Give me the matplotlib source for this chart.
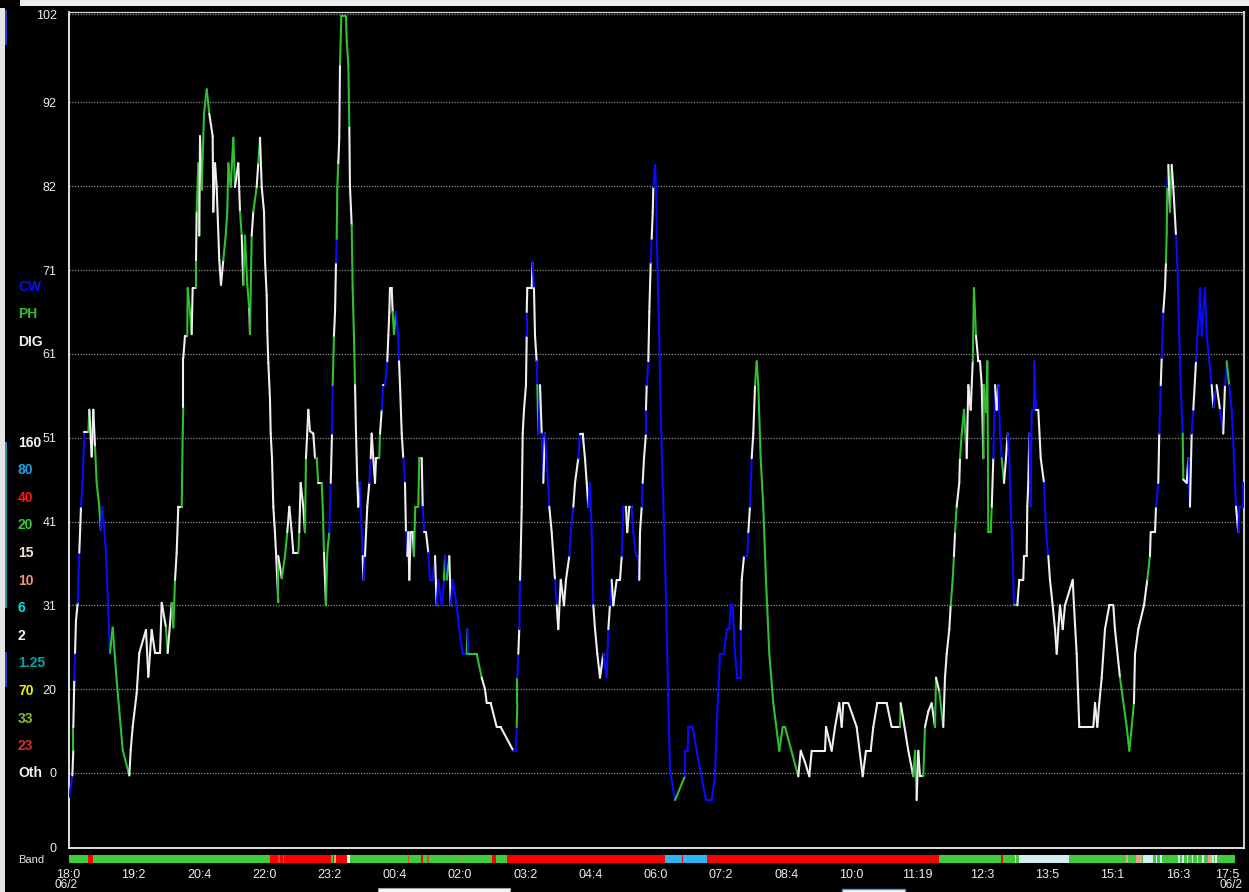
import matplotlib
matplotlib.use("Agg")
import matplotlib.pyplot as plt
import matplotlib.transforms as mtransforms
from matplotlib.collections import LineCollection
from matplotlib.patches import Rectangle

plt.rcParams['font.family'] = ['Liberation Sans', 'DejaVu Sans']

# ---------------- data ----------------
# minutes after 18:00 (06/2)
times = [
    1.0, 4.7, 5.9, 5.9, 7.1, 8.0, 9.2, 11.3, 13.2, 15.3,
    17.4, 19.4, 24.3, 25.5, 28.4, 30.4, 32.5, 34.5, 37.7, 39.4,
    41.4, 43.9, 45.9, 48.8, 50.8, 54.1, 59.0, 66.4, 74.5, 76.2,
    78.6, 83.5, 86.7, 94.9, 97.8, 101.9, 106.0, 112.1, 114.2, 119.4,
    121.5, 126.4, 128.4, 130.5, 132.5, 134.5, 138.7, 139.9, 140.6, 140.6,
    142.7, 145.5, 146.0, 148.8, 150.9, 152.1, 156.2, 156.2, 157.0, 159.0,
    160.2, 161.1, 163.2, 166.0, 169.3, 172.5, 176.6, 177.4, 179.5, 181.5,
    184.7, 186.8, 189.6, 192.6, 194.5, 195.8, 198.7, 201.9, 204.0, 208.0,
    210.1, 212.2, 214.1, 216.2, 219.0, 221.5, 222.3, 224.4, 226.4, 230.5,
    232.5, 234.6, 236.7, 239.5, 240.7, 242.8, 243.5, 244.8, 246.8, 247.7,
    249.3, 250.9, 252.9, 254.2, 257.0, 257.0, 261.2, 265.2, 268.0, 270.5,
    273.4, 275.4, 281.5, 282.7, 284.4, 287.6, 289.7, 290.9, 293.8, 295.8,
    299.9, 302.0, 304.0, 306.0, 310.2, 311.4, 313.0, 315.4, 317.0, 319.5,
    321.2, 322.8, 323.6, 325.2, 326.5, 327.7, 328.5, 329.3, 330.5, 331.7,
    332.6, 333.4, 334.2, 339.9, 340.8, 342.8, 344.0, 344.8, 346.9, 348.1,
    349.7, 351.0, 352.2, 353.8, 355.0, 357.1, 358.0, 360.4, 361.1, 363.2,
    366.0, 368.5, 370.2, 371.4, 373.4, 375.5, 376.7, 380.7, 381.6, 383.7,
    385.6, 387.7, 390.5, 391.8, 393.0, 393.8, 395.9, 397.1, 398.7, 401.2,
    404.0, 404.9, 406.1, 408.2, 410.1, 412.2, 413.4, 415.0, 416.3, 417.5,
    419.2, 421.6, 423.2, 424.8, 428.5, 429.7, 432.7, 433.9, 435.5, 437.9,
    440.8, 442.8, 446.1, 449.0, 451.0, 453.0, 457.2, 460.0, 461.2, 463.3,
    466.5, 468.2, 470.6, 475.5, 478.7, 482.9, 487.8, 488.5, 489.8, 500.0,
    506.2, 510.2, 512.3, 517.2, 524.5, 529.4, 544.9, 548.2, 549.0, 549.8,
    549.8, 551.0, 552.2, 553.1, 553.9, 555.2, 556.4, 558.0, 560.4, 561.3,
    561.3, 562.0, 567.4, 568.6, 570.2, 571.5, 573.5, 574.3, 575.5, 577.6,
    579.7, 581.6, 583.7, 585.8, 589.0, 591.9, 596.0, 598.1, 600.0, 603.0,
    607.0, 609.4, 613.5, 615.2, 618.4, 620.5, 624.5, 626.6, 629.9, 632.7,
    634.8, 636.8, 638.8, 640.9, 642.9, 645.0, 647.8, 651.1, 655.1, 659.3,
    661.3, 663.3, 665.4, 667.4, 671.5, 675.6, 677.7, 679.6, 682.9, 684.5,
    687.0, 689.9, 691.9, 695.2, 698.0, 699.2, 700.1, 702.2, 703.4, 705.0,
    707.4, 707.4, 708.3, 710.3, 711.5, 713.2, 714.4, 715.7, 716.4, 718.5,
    719.7, 721.3, 723.7, 725.4, 727.9, 730.7, 732.8, 734.8, 736.8, 743.0,
    755.2, 755.2, 758.5, 759.3, 764.6, 771.5, 780.9, 787.9, 791.9, 794.0,
    798.1, 803.0, 806.3, 809.5, 811.2, 813.6, 816.5, 819.3, 823.4, 823.4,
    824.7, 827.5, 831.5, 832.8, 834.8, 836.9, 838.9, 841.0, 843.0, 845.0,
    847.9, 851.1, 854.4, 858.5, 863.4, 870.7, 874.9, 877.7, 894.0, 897.0,
    902.2, 907.5, 910.4, 926.7, 928.0, 934.9, 939.0, 944.2, 947.2, 949.1,
    955.3, 965.5, 972.9, 976.9, 982.7, 985.9, 990.8, 1002.3, 1008.4, 1018.6,
    1019.4, 1028.8, 1034.9, 1037.0, 1039.0, 1041.0, 1043.1, 1047.1, 1049.2, 1053.3,
    1057.4, 1061.5, 1062.7, 1066.7, 1071.6, 1073.7, 1075.8, 1079.0, 1080.7, 1083.1,
    1084.7, 1086.0, 1088.0, 1091.2, 1092.1, 1094.2, 1097.0, 1100.3, 1102.3, 1105.2,
    1107.7, 1109.2, 1111.7, 1114.5, 1116.6, 1118.7, 1120.7, 1121.5, 1124.0, 1125.6,
    1126.8, 1129.7, 1131.0, 1132.9, 1135.0, 1137.0, 1139.0, 1141.1, 1143.2, 1146.0,
    1148.4, 1150.5, 1152.5, 1154.2, 1156.6, 1158.2, 1162.3, 1164.7, 1169.6, 1170.5,
    1173.8, 1174.5, 1175.8, 1177.0, 1178.7, 1179.9, 1182.7, 1183.1, 1185.2, 1188.0,
    1191.0, 1195.0, 1197.5, 1200.3, 1202.3, 1205.6, 1208.5, 1210.6, 1212.5, 1214.6,
    1217.9, 1220.7, 1230.2, 1231.7, 1235.0, 1238.2, 1255.4, 1257.5, 1260.3, 1262.7,
    1265.7, 1269.7, 1275.0, 1279.9, 1281.9, 1288.1, 1296.3, 1299.5, 1302.4, 1305.2,
    1306.5, 1310.5, 1317.5, 1321.5, 1324.8, 1325.7, 1331.0, 1332.2, 1335.0, 1336.2,
    1338.0, 1339.2, 1341.1, 1343.2, 1344.4, 1345.3, 1346.0, 1347.3, 1349.3, 1351.4,
    1353.4, 1356.7, 1358.3, 1360.7, 1362.4, 1364.9, 1365.7, 1369.8, 1371.8, 1373.8,
    1375.9, 1377.9, 1381.2, 1382.8, 1385.2, 1386.1, 1388.2, 1392.2, 1394.3, 1397.5,
    1400.4, 1402.4, 1406.5, 1410.6, 1414.6, 1416.7, 1418.8, 1421.9, 1424.9, 1427.7,
    1430.2, 1433.0, 1434.2, 1438.4, 1438.4,
]

values = [
    7.3, 9.9, 13.0, 15.8, 21.5, 24.8, 28.8, 30.9, 37.0, 42.6,
    45.9, 51.7, 51.7, 54.4, 48.7, 54.4, 49.9, 45.5, 42.6, 39.8,
    42.6, 39.8, 37.0, 29.7, 24.8, 27.9, 21.5, 13.0, 9.9, 13.0,
    15.8, 19.9, 24.8, 27.6, 21.9, 27.6, 24.8, 24.8, 30.9, 27.9,
    24.8, 30.9, 27.9, 33.7, 37.0, 42.6, 42.6, 51.5, 54.7, 60.7,
    63.4, 63.4, 69.2, 66.3, 63.6, 69.2, 69.2, 72.6, 78.5, 84.4,
    75.6, 87.7, 81.2, 90.4, 93.4, 90.4, 87.7, 78.5, 84.4, 81.5,
    72.6, 69.6, 72.6, 75.6, 78.5, 84.4, 81.5, 87.5, 81.5, 84.4,
    78.5, 75.6, 69.6, 75.6, 69.6, 66.7, 63.6, 75.6, 78.5, 81.5,
    84.4, 87.5, 81.5, 78.5, 72.6, 68.3, 64.0, 60.1, 55.7, 51.5,
    48.5, 42.6, 39.5, 37.0, 31.0, 36.6, 33.9, 36.6, 39.5, 42.6,
    39.5, 37.0, 37.0, 39.5, 45.5, 42.6, 39.5, 48.5, 54.4, 51.8,
    51.5, 48.5, 48.5, 45.5, 45.5, 42.6, 37.0, 30.6, 37.0, 39.5,
    45.5, 51.5, 57.4, 63.4, 66.3, 72.3, 75.2, 81.5, 84.4, 87.5,
    96.4, 99.3, 102.3, 102.3, 99.3, 96.4, 88.7, 81.5, 76.9, 69.2,
    63.4, 57.4, 51.5, 45.5, 42.6, 45.5, 42.6, 36.6, 33.7, 36.6,
    42.6, 45.5, 48.5, 51.5, 48.5, 45.5, 48.5, 48.5, 51.5, 54.4,
    57.4, 57.4, 60.3, 63.4, 66.3, 69.2, 69.2, 66.3, 63.6, 66.3,
    63.4, 60.3, 57.4, 51.5, 48.5, 45.5, 39.5, 36.6, 39.5, 33.7,
    39.5, 39.5, 36.6, 42.6, 42.6, 48.5, 48.5, 42.6, 39.5, 39.5,
    37.0, 33.7, 33.7, 36.6, 30.6, 33.7, 30.6, 33.7, 36.6, 33.7,
    36.6, 30.6, 33.7, 30.6, 27.7, 24.7, 24.7, 27.7, 24.7, 24.7,
    21.8, 20.4, 18.7, 18.7, 15.8, 15.8, 12.9, 12.9, 15.8, 18.7,
    21.8, 24.7, 27.7, 33.7, 36.6, 42.6, 51.5, 54.4, 57.4, 63.4,
    66.3, 69.2, 69.2, 72.3, 69.2, 63.4, 60.3, 57.4, 51.5, 57.4,
    51.5, 45.5, 51.5, 48.5, 42.6, 39.5, 33.7, 30.6, 27.7, 33.7,
    30.6, 33.7, 36.6, 39.5, 42.6, 45.5, 48.5, 51.5, 51.5, 48.5,
    45.5, 42.6, 45.5, 39.5, 30.6, 27.7, 24.7, 21.8, 24.7, 21.8,
    27.7, 30.6, 33.7, 30.6, 33.7, 33.7, 36.6, 42.6, 42.6, 39.5,
    42.6, 42.6, 39.5, 36.6, 36.6, 33.7, 39.5, 42.6, 45.5, 48.5,
    51.5, 54.4, 57.4, 60.3, 66.3, 72.3, 75.2, 78.5, 81.5, 84.2,
    81.5, 72.6, 63.4, 54.1, 45.5, 36.6, 27.7, 18.7, 10.6, 6.9,
    9.8, 12.9, 12.9, 15.8, 15.8, 11.8, 6.9, 6.9, 9.8, 15.8,
    24.7, 24.7, 27.7, 27.7, 30.6, 30.6, 24.7, 21.8, 21.8, 27.7,
    33.7, 36.6, 36.6, 39.5, 42.6, 48.5, 51.5, 57.4, 60.3, 57.4,
    48.5, 42.6, 33.7, 24.7, 18.7, 12.9, 15.8, 15.8, 9.8, 12.9,
    11.5, 9.8, 12.9, 12.9, 15.8, 12.9, 15.8, 18.7, 15.8, 18.7,
    18.7, 15.8, 9.8, 12.9, 12.9, 15.8, 18.7, 18.7, 15.8, 15.8,
    18.7, 12.9, 9.8, 12.9, 6.9, 12.9, 9.8, 9.8, 15.8, 17.7,
    18.7, 15.8, 21.8, 20.1, 15.8, 21.8, 24.7, 27.7, 30.6, 33.7,
    36.6, 39.5, 42.6, 45.5, 48.5, 51.5, 54.4, 48.5, 57.4, 54.4,
    60.3, 69.2, 63.4, 60.3, 60.3, 57.4, 48.5, 57.4, 54.1, 60.3,
    39.5, 39.5, 42.6, 48.5, 57.4, 54.4, 57.4, 51.5, 48.5, 45.5,
    48.5, 51.5, 48.5, 42.6, 36.6, 30.6, 30.6, 33.7, 33.7, 36.6,
    36.6, 42.6, 45.5, 51.5, 42.6, 54.4, 54.4, 60.3, 54.4, 54.4,
    48.5, 45.5, 39.5, 36.6, 33.7, 30.6, 27.7, 24.7, 27.7, 30.6,
    27.7, 30.6, 33.7, 30.6, 24.7, 15.8, 15.8, 18.7, 15.8, 18.7,
    21.8, 27.7, 30.6, 30.6, 27.7, 21.8, 15.8, 12.9, 15.8, 18.7,
    24.7, 27.7, 30.6, 33.7, 36.6, 39.5, 39.5, 42.6, 45.5, 51.5,
    57.4, 60.7, 66.3, 69.2, 72.3, 75.9, 81.5, 84.2, 78.5, 84.2,
    81.5, 75.6, 72.3, 63.4, 57.4, 51.5, 45.9, 45.5, 48.5, 42.6,
    51.5, 54.4, 60.3, 63.4, 66.3, 69.2, 63.4, 69.2, 63.4, 60.3,
    57.4, 54.7, 57.4, 54.4, 51.5, 57.4, 60.3, 57.4, 54.4, 48.5,
    42.6, 39.5, 42.6, 42.6, 45.5,
]

# mode of each point: C = CW, P = PH, D = DIG
modes = "".join([
    "CCDPDCDDCD", "CCDPDDDPPP", "CCCCCPPPPD", "DDDDDDDDDD", "PDPPDDDPPD",
    "DDPPPDDPDP", "PDDPPPDDDD", "DDDPPPPPPD", "DPDPPPDPDP", "DPDDDDDDDD",
    "DDDDDPDPPD", "DDDPDDDPDD", "DDPPDPPDPP", "CDCPDDCPPD", "DPPPPPPDDP",
    "PPDDDDCCDC", "DDCDDDDDPD", "CDCDDDDDPP", "CCDDDCDCDD", "DDDPPPPDCD",
    "DCCCDCCCPC", "PDCCCCCPCP", "PDDDDDDCCP", "PCDCDDDDDD", "CDDDCDDCPC",
    "DCDCCDDCDD", "DDDCCDDCDD", "DDCCCDDDDC", "CDCDDDDCCD", "DDCCCCDDCD",
    "DCDCDDCDDC", "CCCCCCCCCC", "PCCCCCCCCC", "CCCCCCCCCC", "DDCCDCDDPP",
    "PPPPPPPPPD", "DDDDDDDDDD", "DDDDDDDDDD", "PDDPPDDDPD", "DDPDPDDDDP",
    "PDPDDPPPDD", "DPPDDDDPPP", "PPPDCDDCCP", "DDCCCCPDDD", "DDDDCCCCCD",
    "DDCCDDDDDD", "DDDDDDDDDD", "DDDDDDPPPP", "DDDDPDDDCD", "CDCDDPPCDP",
    "DDCCCCPDDC", "DCDCCCCCCC", "CDCDCDCPCC", "CDCCC",
])

mode_keys = ["C", "P", "D"]
mode_labels = ["CW", "PH", "DIG"]
mode_colors = {"C": "#0a0aff", "P": "#30c030", "D": "#f0f0f0"}

# band strip (minutes after 18:00)
band_start = [0, 24.1, 30.0, 246.8, 257.0, 258.5, 262.4, 263.8, 321.5, 323.5,
              325.5, 328.0, 340.8, 344.8, 416.0, 417.6, 432.1, 434.1, 439.2, 441.6,
              461.0, 462.5, 480.0, 481.5, 498.0, 499.5, 518.4, 523.6, 536.7, 730.7,
              751.2, 753.2, 781.7, 1066.7, 1142.6, 1144.6, 1159.7, 1161.0, 1164.0, 1225.6,
              1295.3, 1298.2, 1307.6, 1314.6, 1316.0, 1329.0, 1332.0, 1334.0, 1337.0, 1339.0,
              1359.0, 1362.0, 1364.0, 1367.0, 1370.0, 1372.0, 1376.0, 1378.0, 1382.0, 1384.0,
              1389.0, 1391.0, 1396.0, 1400.6, 1403.0, 1405.0, 1407.0]
band_stop = band_start[1:] + [1429.0]
band_code = ["20", "40", "20", "40", "23", "40", "23", "40", "20", "40",
             "10", "40", "160", "20", "23", "20", "40", "20", "23", "20",
             "80", "20", "33", "20", "33", "20", "40", "20", "40", "80",
             "40", "80", "40", "20", "40", "20", "15", "20", "15", "20",
             "10", "20", "10", "20", "15", "20", "15", "20", "15", "20",
             "15", "20", "15", "20", "160", "20", "15", "20", "15", "20",
             "15", "20", "10", "15", "20", "160", "20"]

band_labels = ["160", "80", "40", "20", "15", "10", "6", "2", "1.25", "70", "33", "23", "Oth"]
band_text_colors = ["#f4f4f4", "#1ea0e6", "#ff1414", "#33cc33", "#efe6d0", "#f0987a",
                    "#00e6e6", "#f4f4f4", "#00a8a8", "#f0f000", "#8cb432", "#d23232", "#f4f4f4"]
band_fill = {"20": "#3ccc3c", "40": "#ff0000", "80": "#2eb4ee", "15": "#d2eef0",
             "10": "#f0a088", "160": "#ffffff", "23": "#c8503c", "33": "#8aa838"}

ytick_values = [1.07, 10.2, 20.4, 30.6, 40.8, 51.0, 61.2, 71.4, 81.6, 91.8, 102.55]
ytick_labels = ["0", "0", "20", "31", "41", "51", "61", "71", "82", "92", "102"]

xtick_times = [0, 79.9, 159.9, 239.8, 319.8, 399.7, 479.6, 559.6, 639.5, 719.5,
               799.4, 879.3, 959.3, 1039.2, 1119.2, 1199.1, 1279.0, 1359.0, 1438.9]
xtick_labels = ["18:0", "19:2", "20:4", "22:0", "23:2", "00:4", "02:0", "03:2", "04:4",
                "06:0", "07:2", "08:4", "10:0", "11:19", "12:3", "13:5", "15:1", "16:3", "17:5"]
date_label = "06/2"

# ---------------- figure ----------------
W, H = 1249, 892
fig = plt.figure(figsize=(W / 100, H / 100), dpi=100)
fig.patch.set_facecolor("black")


def fxp(px):
    return px / W


def fyp(py):
    return 1 - py / H


X0, X1, YT, YB = 68.5, 1244, 12, 848
ax = fig.add_axes([fxp(X0), fyp(YB), (X1 - X0) / W, (YB - YT) / H])
ax.set_facecolor("black")
ax.set_xlim(0, 1440)
ax.set_ylim(1.07, 102.8)

for v in ytick_values[1:]:
    ax.axhline(v, color="#8c8c8c", lw=0.9, ls=(0, (1, 1.2)), zorder=1)

pts = list(zip(times, values))
segs = [[pts[i - 1], pts[i]] for i in range(1, len(pts))]
cols = [mode_colors[m] for m in modes[1:len(pts)]]
segs = segs[:len(cols)]
lc = LineCollection(segs, colors=cols, linewidths=1.5, zorder=3, capstyle="round")
ax.add_collection(lc)

for side in ["left", "bottom"]:
    ax.spines[side].set_color("#f0f0f0")
    ax.spines[side].set_linewidth(1.3)
ax.spines["top"].set_color("#d8d8d8")
ax.spines["top"].set_linewidth(0.9)
ax.spines["right"].set_color("#c8c8c8")
ax.spines["right"].set_linewidth(1.5)

ax.set_xticks([])
ax.set_yticks(ytick_values, ytick_labels)
ax.tick_params(axis="y", length=0, pad=8.5, labelsize=9, labelcolor="#f0ece2")

# band strip
bx = fig.add_axes([fxp(X0), fyp(863), (X1 - X0) / W, 8 / H])
bx.set_xlim(0, 1440)
bx.set_ylim(0, 1)
bx.axis("off")
for s, e, c in zip(band_start, band_stop, band_code):
    bx.add_patch(Rectangle((s, 0), e - s, 1, facecolor=band_fill[c], edgecolor="none"))

fig.text(fxp(18), fyp(860), "Band", fontsize=8, color="#e6e6e6", va="center", ha="left")

# x tick labels
trans = mtransforms.blended_transform_factory(ax.transData, fig.transFigure)
tick_col = "#f0ece2"
for t, lab in zip(xtick_times[:-1], xtick_labels[:-1]):
    fig.text(t, fyp(874.5), lab, transform=trans, ha="center", va="center",
             fontsize=9, color=tick_col)
fig.text(fxp(1239), fyp(874.5), xtick_labels[-1], ha="right", va="center",
         fontsize=9, color=tick_col)
fig.text(fxp(66), fyp(885.5), date_label, ha="center", va="center", fontsize=8.5, color=tick_col)
fig.text(fxp(1242), fyp(885.5), date_label, ha="right", va="center", fontsize=8.5, color=tick_col)

# legends on the left
for lab, key, y in zip(mode_labels, mode_keys, [287, 314, 342]):
    fig.text(fxp(18), fyp(y), lab, color=mode_colors[key], fontsize=10, fontweight="bold",
             va="center", ha="left",
             bbox=dict(facecolor="black", edgecolor="none", pad=1))
band_y = [443, 470, 498, 525, 553, 581, 608, 636, 663, 691, 719, 746, 773]
for lab, col, y in zip(band_labels, band_text_colors, band_y):
    fig.text(fxp(18), fyp(y), lab, color=col, fontsize=10, fontweight="bold",
             va="center", ha="left",
             bbox=dict(facecolor="black", edgecolor="none", pad=1))

# window chrome
def frect(x, y, w, h, fc, ec="none", lw=0):
    fig.add_artist(Rectangle((fxp(x), fyp(y + h)), w / W, h / H, transform=fig.transFigure,
                             facecolor=fc, edgecolor=ec, linewidth=lw, zorder=10))

frect(0, 8, 5, H - 8, "#e4e4e4")
frect(20, 0, W - 20, 6, "#ececec")
frect(5, 10, 2, 35, "#2040c8")
frect(5, 442, 2, 166, "#10a0b0")
frect(5, 652, 2, 35, "#2040c8")
frect(378, 888, 132, 5, "#f6f6f6", "#a0a0a0", 0.8)
frect(842, 889, 63, 4, "#f6f6f6", "#3aa0e0", 1.0)

fig.savefig("out.png", dpi=100, facecolor="black")
